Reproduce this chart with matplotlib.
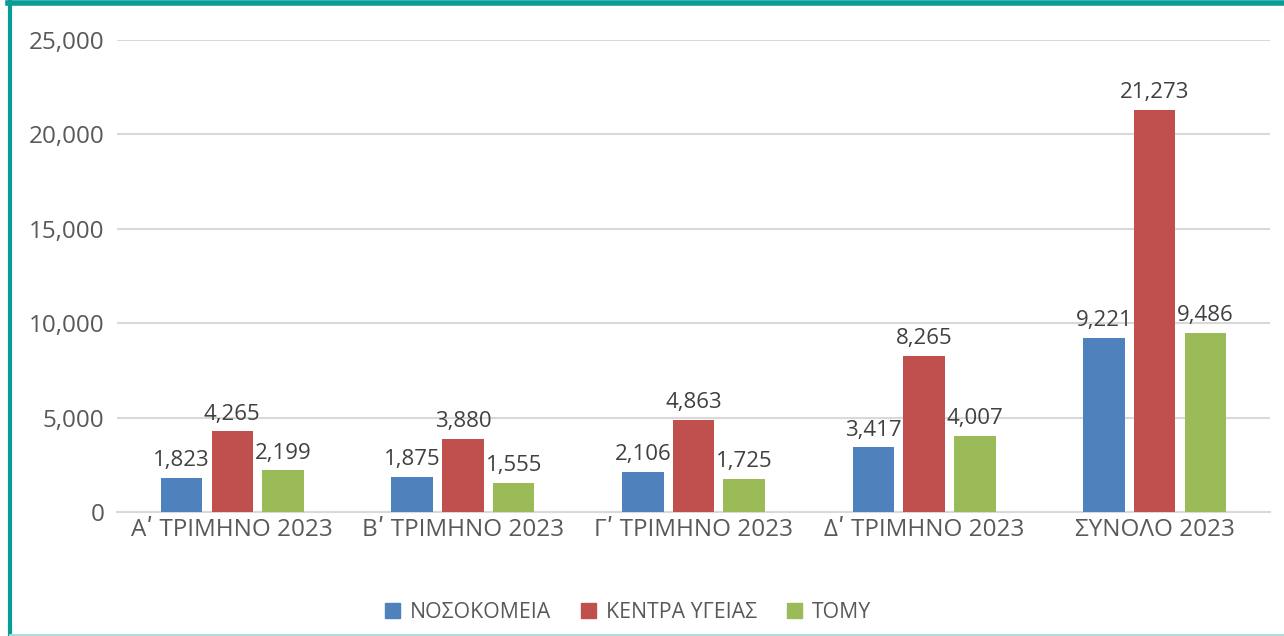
import numpy as np
import matplotlib
matplotlib.use('Agg')
import matplotlib.pyplot as plt
from matplotlib.patches import Rectangle
from matplotlib.lines import Line2D

# Data
categories = ['Αʹ ΤΡΙΜΗΝΟ 2023', 'Βʹ ΤΡΙΜΗΝΟ 2023', 'Γʹ ΤΡΙΜΗΝΟ 2023',
              'Δʹ ΤΡΙΜΗΝΟ 2023', 'ΣΥΝΟΛΟ 2023']
hospitals = [1823, 1875, 2106, 3417, 9221]
health_centres = [4265, 3880, 4863, 8265, 21273]
tomy = [2199, 1555, 1725, 4007, 9486]
series_names = ['ΝΟΣΟΚΟΜΕΙΑ', 'ΚΕΝΤΡΑ ΥΓΕΙΑΣ', 'ΤΟΜΥ']
y_ticks = [0, 5000, 10000, 15000, 20000, 25000]

colors = ['#4F81BD', '#C0504D', '#9BBB59']
text_col = '#595959'

plt.rcParams['font.family'] = ['Open Sans', 'DejaVu Sans']

fig = plt.figure(figsize=(12.84, 6.36), dpi=100)
ax = fig.add_axes([117 / 1284, 124 / 636, (1270 - 117) / 1284, (512 - 40) / 636])

x = np.arange(len(categories))
width = 0.18
offset = 0.22
for i, (vals, name) in enumerate(zip([hospitals, health_centres, tomy], series_names)):
    bars = ax.bar(x + (i - 1) * offset, vals, width, color=colors[i], label=name, zorder=3)
    for b, v in zip(bars, vals):
        ax.annotate(f'{v:,}', (b.get_x() + b.get_width() / 2, v),
                    xytext=(0, 5), textcoords='offset points',
                    ha='center', va='bottom', fontsize=16, color='#404040')

ax.set_xlim(-0.5, len(categories) - 0.5)
ax.set_ylim(0, 25000)
ax.set_yticks(y_ticks)
ax.set_yticklabels([f'{t:,}' for t in y_ticks])
ax.set_xticks(x)
ax.set_xticklabels(categories)
ax.tick_params(axis='both', length=0, labelsize=17.5, colors=text_col)
ax.tick_params(axis='y', pad=9)
ax.tick_params(axis='x', pad=4)
ax.grid(axis='y', color='#D9D9D9', linewidth=1.5, zorder=0)
for s in ['top', 'right', 'left']:
    ax.spines[s].set_visible(False)
ax.spines['bottom'].set_color('#D9D9D9')
ax.spines['bottom'].set_linewidth(1.5)

handles = [Rectangle((0, 0), 1, 1, color=c) for c in colors]
fig.legend(handles, series_names, loc='center', bbox_to_anchor=(628 / 1284, 1 - 612 / 636),
           ncol=3, frameon=False, fontsize=15.3, labelcolor=text_col,
           handlelength=0.7, handleheight=0.7, handletextpad=0.47, columnspacing=1.4)

# frame lines around the chart
fig.add_artist(Line2D([8 / 1284, 1], [1 - 2.5 / 636, 1 - 2.5 / 636], color='#089C98', linewidth=4))
fig.add_artist(Line2D([10 / 1284, 10 / 1284], [0, 1], color='#089C98', linewidth=3))
fig.add_artist(Line2D([10 / 1284, 1], [1.5 / 636, 1.5 / 636], color='#A8DCD8', linewidth=2))

fig.savefig('out.png', dpi=100)
